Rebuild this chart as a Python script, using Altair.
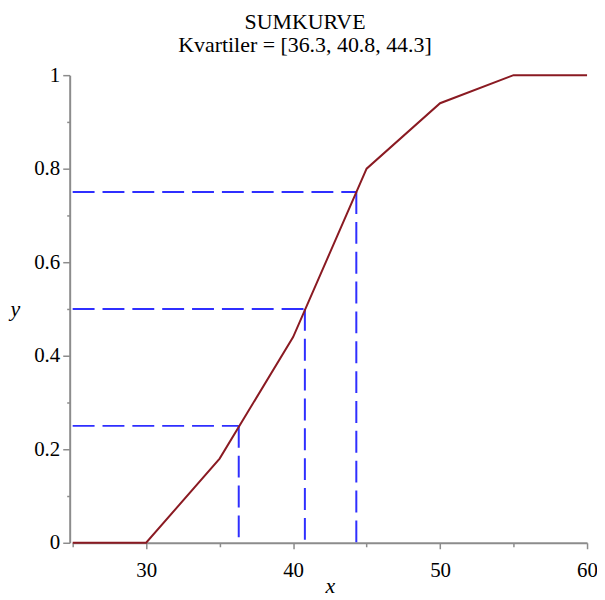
import altair as alt
import pandas as pd

# Cumulative curve (sumkurve)
curve_x = [25, 30, 35, 40, 45, 50, 55, 60]
curve_y = [0.0, 0.0, 0.18, 0.44, 0.80, 0.94, 1.0, 1.0]

# Quartiles
quartiles = [36.3, 40.8, 44.3]
probs = [0.25, 0.5, 0.75]

x_ticks = [25, 30, 35, 40, 45, 50, 55, 60]
y_ticks = [0, 0.1, 0.2, 0.3, 0.4, 0.5, 0.6, 0.7, 0.8, 0.9, 1.0]

title_lines = ["SUMKURVE", "Kvartiler = [36.3, 40.8, 44.3]"]

curve_df = pd.DataFrame({"x": curve_x, "y": curve_y})
hdf = pd.DataFrame({"x0": [curve_x[0]] * len(quartiles), "x1": quartiles, "p": probs})
vdf = pd.DataFrame({"q": quartiles, "p": probs, "z": [0.0] * len(quartiles)})

FONT = "Liberation Serif"
AX = "#8c8c8c"
RED = "#8a1a22"
BLUE = "#2f2fff"

xscale = alt.Scale(domain=[25, 60], nice=False, zero=False)
yscale = alt.Scale(domain=[0, 1], nice=False)

xaxis = alt.Axis(
    values=x_ticks,
    labelExpr="datum.value % 10 == 0 ? datum.label : ''",
    tickSize={"condition": {"test": "datum.value % 10 != 0", "value": 4}, "value": 6},
    grid=False, labelFont=FONT, labelFontSize=21, labelColor="black",
    labelPadding=11, labelFlush=False, labelOverlap=False,
    domainColor=AX, domainWidth=2, tickColor=AX, tickWidth=1.5,
    title="x", titleFont=FONT, titleFontSize=22, titleFontStyle="italic",
    titleFontWeight="normal", titleColor="black",
    titleBaseline="middle", titleY=43,
)
yaxis = alt.Axis(
    values=y_ticks, format="~g",
    labelExpr="round(datum.value * 10) % 2 == 0 ? datum.label : ''",
    tickSize={"condition": {"test": "round(datum.value * 10) % 2 == 1", "value": 3}, "value": 7},
    grid=False, labelFont=FONT, labelFontSize=21, labelColor="black",
    labelPadding=3, labelFlush=False, labelOverlap=False, offset=3,
    domainColor=AX, domainWidth=2, tickColor=AX, tickWidth=1.5,
    title="y", titleFont=FONT, titleFontSize=22, titleFontStyle="italic",
    titleFontWeight="normal", titleColor="black", titleAngle=0,
    titleAlign="center", titleBaseline="middle", titleX=-55, titleY=235,
)

line = alt.Chart(curve_df).mark_line(color=RED, strokeWidth=2).encode(
    x=alt.X("x:Q", scale=xscale, axis=xaxis),
    y=alt.Y("y:Q", scale=yscale, axis=yaxis),
)

hrules = alt.Chart(hdf).mark_rule(color=BLUE, strokeWidth=2, strokeDash=[22, 8]).encode(
    x=alt.X("x0:Q", scale=xscale),
    x2="x1:Q",
    y=alt.Y("p:Q", scale=yscale),
)

vrules = alt.Chart(vdf).mark_rule(color=BLUE, strokeWidth=2, strokeDash=[22, 8]).encode(
    x=alt.X("q:Q", scale=xscale),
    y=alt.Y("p:Q", scale=yscale),
    y2="z:Q",
)

chart = alt.layer(hrules, vrules, line).properties(
    width=517,
    height=470,
    title=alt.TitleParams(
        text=title_lines,
        font=FONT, fontSize=22, fontWeight="normal", color="black",
        lineHeight=23, anchor="middle", offset=7, dx=-25,
    ),
    autosize=alt.AutoSizeParams(type="none"),
    padding={"left": 65, "top": 66, "right": 10, "bottom": 54},
).configure_view(stroke=None)

chart.save("out.html", embed_options={"renderer": "svg", "actions": False})
